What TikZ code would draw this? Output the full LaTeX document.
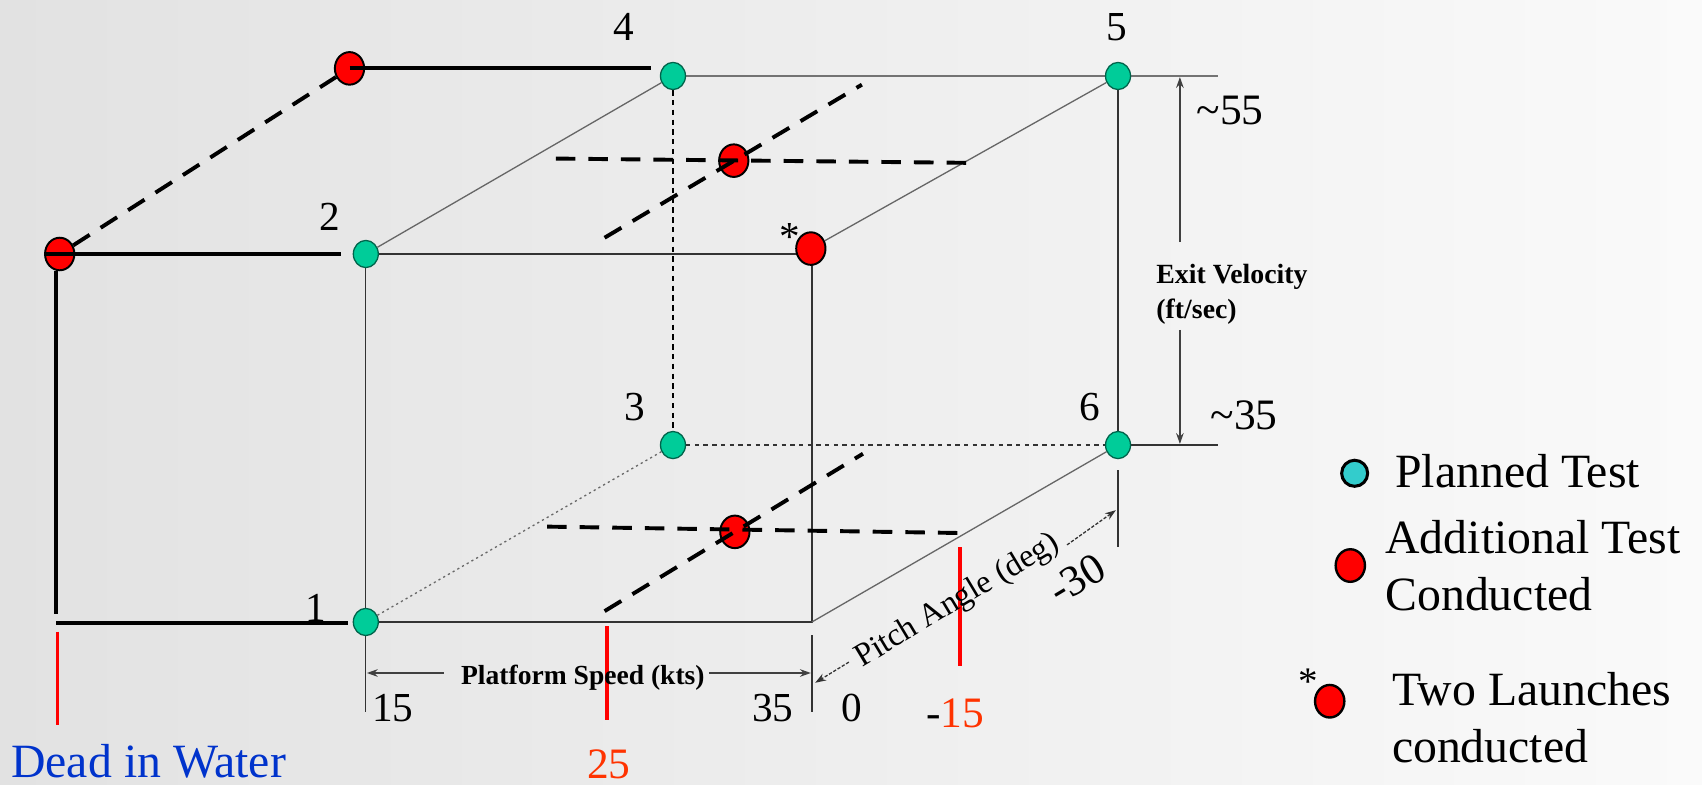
\documentclass[tikz,border=0pt]{standalone}
\usepackage{fontspec}
\setmainfont{Liberation Serif}
\usetikzlibrary{shapes.geometric,arrows.meta}
\definecolor{teal1}{RGB}{0,204,153}
\definecolor{tealedge}{RGB}{0,100,75}
\definecolor{cyanleg}{RGB}{51,204,204}
\definecolor{dwblue}{RGB}{0,51,204}
\definecolor{numred}{RGB}{255,51,0}
\definecolor{bgL}{RGB}{226,226,226}
\definecolor{bgR}{RGB}{250,250,250}
\pgfdeclarelayer{back}
\pgfdeclarelayer{edges}
\pgfsetlayers{back,edges,main}
\begin{document}
\begin{tikzpicture}[x=0.5pt,y=-0.5pt,
  plan/.style={ellipse,draw=tealedge,fill=teal1,line width=0.6pt,minimum width=11.5pt,minimum height=12.5pt,inner sep=0pt},
  addt/.style={ellipse,draw=black,fill=red,line width=0.9pt,minimum width=13.5pt,minimum height=15pt,inner sep=0pt},
  legcyan/.style={circle,draw=black,fill=cyanleg,line width=1.4pt,minimum size=12pt,inner sep=0pt},
  legred/.style={ellipse,draw=black,fill=red,line width=1.1pt,minimum width=13.5pt,minimum height=15pt,inner sep=0pt},
  thickline/.style={line width=1.8pt,draw=black},
  thickdash/.style={line width=1.8pt,draw=black,dash pattern=on 9pt off 6pt},
  cubeedge/.style={line width=0.6pt,draw=black!80},
  diagedge/.style={line width=0.6pt,draw=black!60},
  backtop/.style={line width=1.2pt,draw=black!55},
  finedash/.style={line width=0.7pt,draw=black,dash pattern=on 2.5pt off 2pt},
  finedot/.style={line width=0.6pt,draw=black!60,dash pattern=on 1pt off 1.5pt},
  dimline/.style={line width=0.6pt,draw=black!75,-{Stealth[length=5pt,width=3.5pt]}},
  dotdim/.style={line width=0.6pt,draw=black!80,dash pattern=on 1.5pt off 0.8pt,-{Stealth[length=5pt,width=3.5pt]}},
  redtick/.style={line width=1.8pt,draw=red},
  numlbl/.style={font=\fontsize{19}{19}\selectfont,inner sep=0pt,anchor=base},
  boldlbl/.style={font=\fontsize{12.7}{16}\selectfont\bfseries,inner sep=0pt},
  legtxt/.style={font=\fontsize{22}{22}\selectfont,inner sep=0pt,anchor=base west}
]
\begin{pgfonlayer}{back}
\shade[left color=bgL,right color=bgR] (0,0) rectangle (1568,723);
\end{pgfonlayer}
\useasboundingbox (0,0) rectangle (1568,723);

% cube nodes
\node[plan] (n1) at (337,573) {};
\node[plan] (n2) at (337,234) {};
\node[plan] (n3) at (620,410) {};
\node[plan] (n4) at (620,70) {};
\node[plan] (n5) at (1030,70) {};
\node[plan] (n6) at (1030,410) {};
\node[addt] (ra) at (322,63) {};
\node[addt] (rl) at (55,234) {};
\node[addt] (rs) at (747,229) {};
\node[addt] (ru) at (676,148) {};
\node[addt] (rd) at (677,490) {};

% helper coordinates
\coordinate (c2r) at (748,234);
\coordinate (c1r) at (748,573);
\coordinate (e1) at (337,656);
\coordinate (x5) at (1122,70);
\coordinate (x6) at (1122,410);
\coordinate (e6a) at (1030,433);
\coordinate (e6b) at (1030,504);
\coordinate (e1ra) at (748,585);
\coordinate (e1rb) at (748,656);

\begin{pgfonlayer}{edges}
\draw[cubeedge] (n2.center) -- (c2r) -- (c1r) -- (n1.center) -- (e1);
\draw[cubeedge] (n2.center) -- (n1.center);
\draw[diagedge] (n2) -- (n4);
\draw[diagedge] (rs) -- (n5);
\draw[diagedge] (c1r) -- (n6);
\draw[finedot] (n1) -- (n3);
\draw[backtop] (n4.center) -- (x5);
\draw[cubeedge] (n5) -- (n6);
\draw[finedash] (n4) -- (n3);
\draw[finedash,draw=black!80,dash pattern=on 2pt off 2pt,line width=0.6pt] (n3) -- (n6);
\draw[cubeedge] (n6.center) -- (x6);
\draw[cubeedge] (e6a) -- (e6b);
\draw[cubeedge] (e1ra) -- (e1rb);
\end{pgfonlayer}

% thick lines outside cube
\coordinate (a4) at (600,63);
\coordinate (a2) at (314,234);
\coordinate (dl) at (52,566);
\coordinate (db) at (52,574);
\coordinate (a1) at (321,574);
\draw[thickline] (ra.center) -- (a4);
\draw[thickline] (rl.west) -- (a2);
\draw[thickline] (rl.south -| dl) -- (dl);
\draw[thickline] (db) -- (a1);
\draw[thickdash] (rl) -- (ra);

% thick dashed lines inside cube
\coordinate (ul1) at (504,146);
\coordinate (ur1) at (890,150);
\coordinate (ud1) at (557,219);
\coordinate (ud2) at (794,78);
\coordinate (ll1) at (494,485);
\coordinate (lr1) at (882,491);
\coordinate (ld1) at (557,563);
\coordinate (ld2) at (795,418);
\draw[thickdash] (ur1) -- (ul1);
\draw[thickdash] (ud1) -- (ud2);
\draw[thickdash] (lr1) -- (ll1);
\draw[thickdash] (ld1) -- (ld2);

% red ticks
\coordinate (t0a) at (53,582); \coordinate (t0b) at (53,668);
\coordinate (t25a) at (559,577); \coordinate (t25b) at (559,663);
\coordinate (t15a) at (884,504); \coordinate (t15b) at (884,614);
\draw[redtick] (t0a) -- (t0b);
\draw[redtick] (t25a) -- (t25b);
\draw[redtick] (t15a) -- (t15b);

% vertex labels
\node[numlbl] (l4) at (575,37) {4};
\node[numlbl] (l5) at (1029,37) {5};
\node[numlbl] (l2) at (304,212) {2};
\node[numlbl] (l1) at (291,573) {1};
\node[numlbl] (l3) at (585,387) {3};
\node[numlbl] (l6) at (1004,387) {6};
\node[font=\fontsize{19}{19}\selectfont,inner sep=0pt] (star) at (728,218) {*};

% platform speed dimension
\node[boldlbl,anchor=base] (ps) at (537,631) {Platform Speed (kts)};
\coordinate (psa) at (409,620); \coordinate (psl) at (338,620);
\coordinate (psb) at (653,620); \coordinate (psr) at (747,620);
\draw[dimline] (psa) -- (psl);
\draw[dimline] (psb) -- (psr);
\node[numlbl] (v15) at (362,665) {15};
\node[numlbl] (v35) at (712,665) {35};
\node[numlbl] (v0) at (785,665) {0};
\node[font=\fontsize{20}{20}\selectfont,inner sep=0pt,anchor=base,text=numred] (v25) at (561,717) {25};
\node[font=\fontsize{20}{20}\selectfont,inner sep=0pt,anchor=base] (vm15) at (880,670) {-\textcolor{numred}{15}};
\node[font=\fontsize{22}{22}\selectfont,inner sep=0pt,anchor=base west,text=dwblue] (dw) at (10,716) {Dead in Water};

% exit velocity dimension
\node[boldlbl,align=left,anchor=north west,font=\fontsize{12.8}{16}\selectfont\bfseries] (ev) at (1065,243) {Exit Velocity\\(ft/sec)};
\coordinate (eva) at (1087,223); \coordinate (evt) at (1087,71);
\coordinate (evb) at (1087,304); \coordinate (evbt) at (1087,409);
\draw[dimline] (eva) -- (evt);
\draw[dimline] (evb) -- (evbt);
\node[font=\fontsize{20}{20}\selectfont,inner sep=0pt,anchor=base west] (v55) at (1102,115) {\textasciitilde55};
\node[font=\fontsize{20}{20}\selectfont,inner sep=0pt,anchor=base west] (v35b) at (1115,396) {\textasciitilde35};

% pitch angle dimension
\coordinate (pa1) at (782,610); \coordinate (pt1) at (751,629);
\coordinate (pa2) at (983,502); \coordinate (pt2) at (1028,470);
\draw[dotdim] (pa1) -- (pt1);
\draw[dotdim] (pa2) -- (pt2);
\node[font=\fontsize{15}{16}\selectfont,inner sep=0pt,anchor=base,rotate=31] (pa) at (886,560) {Pitch Angle (deg)};
\node[font=\fontsize{20}{20}\selectfont,inner sep=0pt,rotate=31] (v30) at (992,533) {-30};

% legend
\node[legcyan] (lc) at (1248,436) {};
\node[legred] (lrA) at (1244,521) {};
\node[legred] (lrB) at (1225,646) {};
\node[font=\fontsize{18}{18}\selectfont,inner sep=0pt] (lstar) at (1205,628) {*};
\node[legtxt] (t1) at (1285,449) {Planned Test};
\node[legtxt] (t2) at (1276,510) {Additional Test};
\node[legtxt] (t3) at (1276,562) {Conducted};
\node[legtxt] (t4) at (1282,650) {Two Launches};
\node[legtxt] (t5) at (1282,702) {conducted};
\end{tikzpicture}
\end{document}
